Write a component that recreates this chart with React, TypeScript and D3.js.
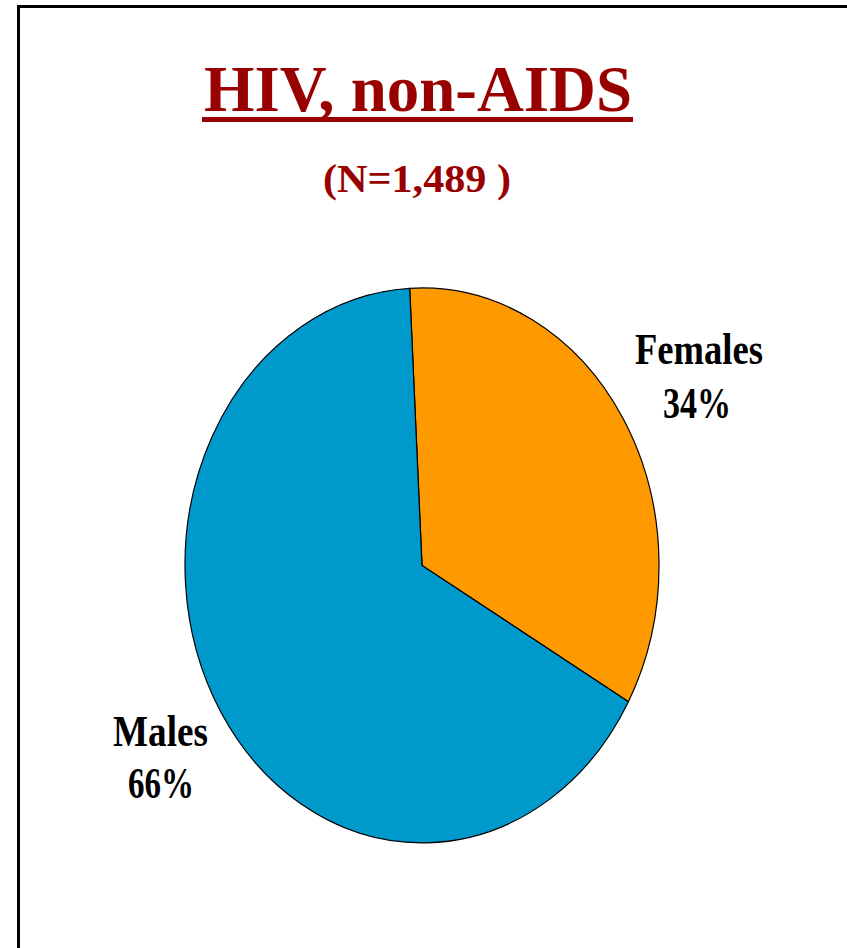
import React from "react";
import * as d3 from "d3";

const categories = ["Females", "Males"];
const values = [34, 66];
const labels = ["34%", "66%"];
const colors = ["#FF9900", "#0099CC"];
const title = "HIV, non-AIDS";
const subtitle = "(N=1,489 )";

export default function App() {
  const W = 847, H = 948;
  const cx = 422, cy = 565.5, rx = 237, ry = 277.5;
  const start = (-3.0 * Math.PI) / 180;
  const pie = d3.pie<number>().sort(null).startAngle(start).endAngle(start + 2 * Math.PI);
  const arcs = pie(values);
  const arc = d3.arc<d3.PieArcDatum<number>>().innerRadius(0).outerRadius(1);
  const font = "'Liberation Serif', 'Times New Roman', serif";
  return (
    <svg width={W} height={H} style={{ position: "absolute", left: 0, top: 0, background: "#fff" }}>
      <rect x={18.5} y={6.5} width={W + 10} height={H + 10} fill="#fff" stroke="#000" strokeWidth={3} />
      <text x={204} y={111} fontFamily={font} fontWeight="bold" fontSize={66} fill="#990000" textLength={428} lengthAdjust="spacingAndGlyphs">
        {title}
      </text>
      <rect x={202} y={117} width={431} height={5} fill="#990000" />
      <text x={323} y={192} fontFamily={font} fontWeight="bold" fontSize={41} fill="#990000" textLength={188} lengthAdjust="spacingAndGlyphs">
        {subtitle}
      </text>
      <g transform={`translate(${cx},${cy}) scale(${rx},${ry})`}>
        {arcs.map((a, i) => (
          <path key={categories[i]} d={arc(a) || ""} fill={colors[i]} stroke="#000" strokeWidth={1.2} vectorEffect="non-scaling-stroke" />
        ))}
      </g>
      <g fontFamily={font} fontWeight="bold" fontSize={44} fill="#000">
        <text x={635} y={364} textLength={128} lengthAdjust="spacingAndGlyphs">{categories[0]}</text>
        <text x={663} y={418} textLength={68} lengthAdjust="spacingAndGlyphs">{labels[0]}</text>
        <text x={113} y={746} textLength={95} lengthAdjust="spacingAndGlyphs">{categories[1]}</text>
        <text x={128} y={798} textLength={66} lengthAdjust="spacingAndGlyphs">{labels[1]}</text>
      </g>
    </svg>
  );
}
